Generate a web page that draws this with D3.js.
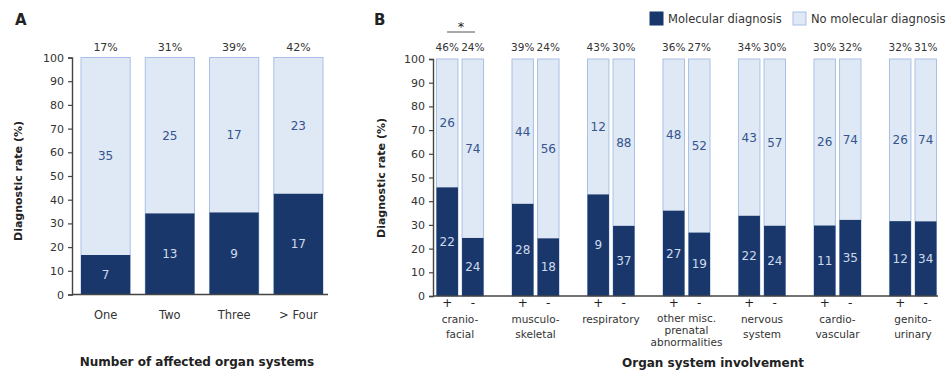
<!DOCTYPE html>
<html><head><meta charset="utf-8">
<script src="https://cdn.jsdelivr.net/npm/d3@7"></script>
<style>body{margin:0;background:#fff}svg{display:block;font-family:"DejaVu Sans",Verdana,sans-serif}</style>
</head><body><svg id="c" width="947" height="373"></svg>
<script>
// Panel A data
const groupsA = ["One", "Two", "Three", "> Four"];
const molA = [7, 13, 9, 17];
const noMolA = [35, 25, 17, 23];
const pctLabelsA = ["17%", "31%", "39%", "42%"];

// Panel B data
const organsB = ["cranio-facial", "musculo-skeletal", "respiratory", "other misc. prenatal abnormalities", "nervous system", "cardio-vascular", "genito-urinary"];
const organLines = [["cranio-", "facial"], ["musculo-", "skeletal"], ["respiratory"], ["other misc.", "prenatal", "abnormalities"], ["nervous", "system"], ["cardio-", "vascular"], ["genito-", "urinary"]];
const involvement = ["+", "-"];
const molPlus = [22, 28, 9, 27, 22, 11, 12];
const noMolPlus = [26, 44, 12, 48, 43, 26, 26];
const molMinus = [24, 18, 37, 19, 24, 35, 34];
const noMolMinus = [74, 56, 88, 52, 57, 74, 74];
const pctPlus = ["46%", "39%", "43%", "36%", "34%", "30%", "32%"];
const pctMinus = ["24%", "24%", "30%", "27%", "30%", "32%", "31%"];
const yTicks = [0, 10, 20, 30, 40, 50, 60, 70, 80, 90, 100];
const legendLabels = ["Molecular diagnosis", "No molecular diagnosis"];

const DARK = "#19376a", LIGHT = "#dfe8f5", LSTROKE = "#a9c1e6", AX = "#444";
const svg = d3.select("#c");

function drawAxis(g, y, x0, x1) {
  const ax = g.append("g").attr("transform", `translate(${x0},0)`)
    .call(d3.axisLeft(y).tickValues(yTicks).tickSize(4).tickPadding(4));
  ax.select(".domain").attr("stroke", AX).attr("stroke-width", 1.4);
  ax.selectAll(".tick line").attr("stroke", AX).attr("stroke-width", 1.2);
  ax.selectAll("text").attr("font-size", 11).attr("fill", "#333").attr("font-family", "DejaVu Sans");
  g.append("line").attr("x1", x0).attr("x2", x1).attr("y1", y(0)).attr("y2", y(0))
    .attr("stroke", AX).attr("stroke-width", 1.4);
}

function stackBar(g, x, w, y, mol, no, fs) {
  const p = mol / (mol + no) * 100;
  g.append("rect").attr("x", x).attr("width", w).attr("y", y(100)).attr("height", y(0) - y(100))
    .attr("fill", LIGHT).attr("stroke", LSTROKE).attr("stroke-width", 1);
  g.append("rect").attr("x", x).attr("width", w).attr("y", y(p)).attr("height", y(0) - y(p))
    .attr("fill", DARK);
  g.append("text").attr("x", x + w / 2).attr("y", y((p + 100) / 2)).attr("dy", "0.35em")
    .attr("text-anchor", "middle").attr("font-size", fs).attr("fill", "#34548e").text(no);
  g.append("text").attr("x", x + w / 2).attr("y", y(p / 2)).attr("dy", "0.35em")
    .attr("text-anchor", "middle").attr("font-size", fs).attr("fill", "#cfdaee").text(mol);
}

// ---------- Panel A ----------
const gA = svg.append("g");
const yA = d3.scaleLinear().domain([0, 100]).range([294.5, 57.5]);
const xA = d3.scaleBand().domain(groupsA).range([81, 323]).paddingInner(0.234);
groupsA.forEach((k, i) => {
  stackBar(gA, xA(k), xA.bandwidth(), yA, molA[i], noMolA[i], 12);
  gA.append("text").attr("x", xA(k) + xA.bandwidth() / 2).attr("y", 51).attr("text-anchor", "middle")
    .attr("font-size", 11).attr("fill", "#333").text(pctLabelsA[i]);
  gA.append("text").attr("x", xA(k) + xA.bandwidth() / 2).attr("y", 319).attr("text-anchor", "middle")
    .attr("font-size", 11.5).attr("fill", "#333").text(k);
});
drawAxis(gA, yA, 72, 328);
gA.append("text").attr("x", 15).attr("y", 25).attr("font-size", 15).attr("font-weight", "bold").attr("fill", "#222").text("A");
gA.append("text").attr("transform", "translate(22,181) rotate(-90)").attr("text-anchor", "middle")
  .attr("font-size", 11).attr("font-weight", "bold").attr("fill", "#222").text("Diagnostic rate (%)");
gA.append("text").attr("x", 197).attr("y", 366).attr("text-anchor", "middle")
  .attr("font-size", 12).attr("font-weight", "bold").attr("fill", "#222").text("Number of affected organ systems");

// ---------- Panel B ----------
const gB = svg.append("g");
const yB = d3.scaleLinear().domain([0, 100]).range([296, 59]);
const xB = d3.scaleBand().domain(organsB).range([436.5, 936.5]).paddingInner(0.377);
const xInner = d3.scaleBand().domain(involvement).range([0, xB.bandwidth()]).paddingInner(0.16);
organsB.forEach((k, i) => {
  const vals = {"+": [molPlus[i], noMolPlus[i], pctPlus[i]], "-": [molMinus[i], noMolMinus[i], pctMinus[i]]};
  involvement.forEach(s => {
    const x = xB(k) + xInner(s), w = xInner.bandwidth();
    stackBar(gB, x, w, yB, vals[s][0], vals[s][1], 12);
    gB.append("text").attr("x", x + w / 2).attr("y", 51).attr("text-anchor", "middle")
      .attr("font-size", 10.5).attr("fill", "#333").text(vals[s][2]);
    gB.append("text").attr("x", x + w / 2).attr("y", 307).attr("text-anchor", "middle")
      .attr("font-size", 12).attr("fill", "#222").text(s);
  });
  const lines = organLines[i];
  const three = lines.length > 2;
  const lh = three ? 12 : 14.5;
  const y0 = three ? 322 : 323;
  const cx = xB(k) + xB.bandwidth() / 2;
  lines.forEach((ln, j) => {
    gB.append("text").attr("x", cx).attr("y", y0 + j * lh).attr("text-anchor", "middle")
      .attr("font-size", 10.5).attr("fill", "#333").text(ln);
  });
});
drawAxis(gB, yB, 433, 938);
// significance marker on first group
const g0 = xB(organsB[0]) + xB.bandwidth() / 2;
gB.append("line").attr("x1", g0 - 13).attr("x2", g0 + 15).attr("y1", 32).attr("y2", 32).attr("stroke", "#555").attr("stroke-width", 1);
gB.append("text").attr("x", g0 + 1).attr("y", 31).attr("text-anchor", "middle").attr("font-size", 13).attr("fill", "#222").text("*");
gB.append("text").attr("x", 374).attr("y", 25).attr("font-size", 15).attr("font-weight", "bold").attr("fill", "#222").text("B");
gB.append("text").attr("transform", "translate(385,178) rotate(-90)").attr("text-anchor", "middle")
  .attr("font-size", 11).attr("font-weight", "bold").attr("fill", "#222").text("Diagnostic rate (%)");
gB.append("text").attr("x", 713).attr("y", 367).attr("text-anchor", "middle")
  .attr("font-size", 12).attr("font-weight", "bold").attr("fill", "#222").text("Organ system involvement");

// legend
const legX = [650, 793];
legendLabels.forEach((t, i) => {
  gB.append("rect").attr("x", legX[i]).attr("y", 12).attr("width", 13).attr("height", 13)
    .attr("fill", i === 0 ? DARK : LIGHT).attr("stroke", i === 0 ? DARK : LSTROKE);
  gB.append("text").attr("x", legX[i] + 18).attr("y", 22.5).attr("font-size", 11.5).attr("fill", "#333").text(t);
});
</script></body></html>
